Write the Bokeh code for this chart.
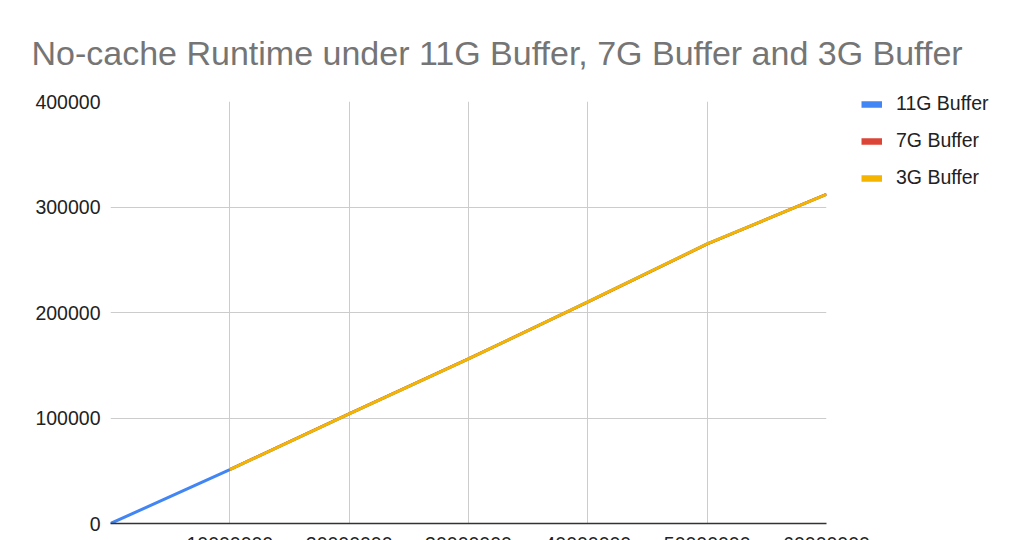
from bokeh.embed import file_html
from bokeh.models import ColumnDataSource, FixedTicker, Legend, LegendItem, NumeralTickFormatter
from bokeh.plotting import figure
from bokeh.resources import INLINE

# data
rows = [0, 10000000, 20000000, 30000000, 40000000, 50000000, 60000000]
buffer_11g = [0, 51000, 104000, 156000, 210000, 265000, 312000]
buffer_7g = [None, 51200, 104200, 156200, 209800, 264800, 312200]
buffer_3g = [None, 51000, 104000, 156000, 210000, 265000, 312000]

x_ticks = [10000000, 20000000, 30000000, 40000000, 50000000, 60000000]
y_ticks = [0, 100000, 200000, 300000, 400000]

title = "No-cache Runtime under 11G Buffer, 7G Buffer and 3G Buffer"
series = [
    ("11G Buffer", buffer_11g, "#4285f4", 3),
    ("7G Buffer", buffer_7g, "#db4437", 2.5),
    ("3G Buffer", buffer_3g, "#f4b400", 3),
]

font = "Liberation Sans"
tick_size = "19.5px"

p = figure(
    title=title,
    frame_width=716,
    frame_height=422,
    x_range=(0, 60000000),
    y_range=(0, 400000),
    min_border_left=110,
    min_border_right=186,
    min_border_top=101,
    min_border_bottom=40,
    tools="",
    toolbar_location=None,
    output_backend="svg",
)
p.outline_line_color = None
p.background_fill_color = "white"

p.title.text_font = font
p.title.text_font_size = "34px"
p.title.text_font_style = "normal"
p.title.text_color = "#757575"
p.title.align = "left"
p.title.offset = -79
p.title.standoff = 59

nan = float("nan")
items = []
for label, values, color, width in series:
    src = ColumnDataSource(dict(x=rows, y=[nan if v is None else v for v in values]))
    p.line("x", "y", source=src, line_color=color, line_width=width)
    # thicker swatch for the legend, like the reference's colour bars (draws nothing in the plot)
    swatch = p.line(x=[nan], y=[nan], line_color=color, line_width=6.5, line_cap="butt")
    items.append(LegendItem(label=label, renderers=[swatch]))

legend = Legend(
    items=items,
    location=(35, 334),
    orientation="vertical",
    background_fill_alpha=0,
    border_line_color=None,
    padding=0,
    margin=0,
    spacing=14,
    glyph_width=21,
    glyph_height=20,
    label_height=20,
    label_standoff=14,
    label_text_font=font,
    label_text_font_size="19.5px",
    label_text_color="#222222",
)
p.add_layout(legend, "right")

p.xaxis.ticker = FixedTicker(ticks=x_ticks)
p.yaxis.ticker = FixedTicker(ticks=y_ticks)
p.xgrid.ticker = FixedTicker(ticks=x_ticks)
p.xaxis.formatter = NumeralTickFormatter(format="0")
p.yaxis.formatter = NumeralTickFormatter(format="0")

p.grid.grid_line_color = "#cccccc"
p.grid.grid_line_width = 1
p.axis.major_tick_line_color = None
p.axis.minor_tick_line_color = None
p.axis.major_tick_out = 0
p.axis.major_tick_in = 0
p.axis.major_label_text_font = font
p.axis.major_label_text_font_size = tick_size
p.axis.major_label_text_color = "#222222"
p.yaxis.axis_line_color = None
p.yaxis.major_label_standoff = 10
p.xaxis.axis_line_color = "#333333"
p.xaxis.axis_line_width = 1.5
p.xaxis.major_label_standoff = 13

open("out.html", "w").write(file_html(p, INLINE))
